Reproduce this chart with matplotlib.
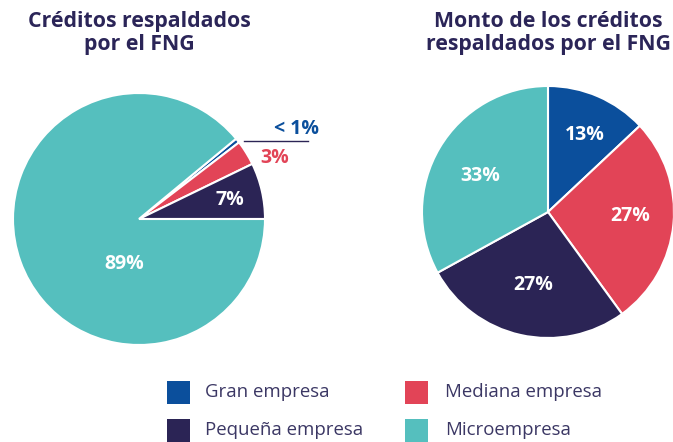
import matplotlib
matplotlib.use("Agg")
import matplotlib.pyplot as plt
from matplotlib import font_manager as fm
from matplotlib.patches import Rectangle

plt.rcParams['font.family'] = ['Open Sans', 'DejaVu Sans']

bold_path = None
for f in fm.fontManager.ttflist:
    if f.fname.endswith("OpenSans-Bold.ttf"):
        bold_path = f.fname
        break

def bold_fp(size):
    if bold_path:
        return fm.FontProperties(fname=bold_path, size=size)
    return fm.FontProperties(family="Open Sans", weight="bold", size=size)

categories = ["Gran empresa", "Mediana empresa", "Pequeña empresa", "Microempresa"]
left_values = [0.6, 3.2, 7.2, 89.0]
right_values = [13, 27, 27, 33]
left_labels = ["< 1%", "3%", "7%", "89%"]
right_labels = ["13%", "27%", "27%", "33%"]
colors = ["#0b4f9c", "#e24457", "#2b2455", "#55bfbe"]
titles = [["Créditos respaldados", "por el FNG"], ["Monto de los créditos", "respaldados por el FNG"]]

W, H = 673, 442
fig = plt.figure(figsize=(W / 100, H / 100), dpi=100)

def px_axes(cx, cy, r):
    return fig.add_axes([(cx - r) / W, (H - cy - r) / H, 2 * r / W, 2 * r / H])

def to_ax(cx, cy, r, x, y):
    return ((x - cx) / r, (cy - y) / r)

def fx(x):
    return x / W

def fy(y):
    return 1 - y / H

title_color = "#2b2558"
wprops = dict(edgecolor="white", linewidth=1.5)
lbl_size = 14

# Left pie
cxL, cyL, rL = 139, 219, 126
axL = px_axes(cxL, cyL, rL)
start_left = 360 * sum(left_values[:3]) / sum(left_values)
wedgesL, _ = axL.pie(left_values, colors=colors, startangle=start_left,
                     counterclock=False, radius=1, wedgeprops=wprops)
axL.set_xlim(-1, 1); axL.set_ylim(-1, 1); axL.set_aspect("equal"); axL.axis("off")

lbl_kw = dict(ha="center", va="center")
axL.text(*to_ax(cxL, cyL, rL, 297, 129), left_labels[0], color=colors[0], fontproperties=bold_fp(lbl_size), **lbl_kw)
axL.text(*to_ax(cxL, cyL, rL, 275, 158), left_labels[1], color=colors[1], fontproperties=bold_fp(lbl_size), **lbl_kw)
axL.text(*to_ax(cxL, cyL, rL, 230, 200), left_labels[2], color="white", fontproperties=bold_fp(lbl_size), **lbl_kw)
axL.text(*to_ax(cxL, cyL, rL, 124, 264), left_labels[3], color="white", fontproperties=bold_fp(lbl_size), **lbl_kw)
x0, y0 = to_ax(cxL, cyL, rL, 244, 141)
x1, _ = to_ax(cxL, cyL, rL, 308, 141)
axL.plot([x0, x1], [y0, y0], color="#2b2455", lw=1.0, clip_on=False)

# Right pie
cxR, cyR, rR = 548, 212, 126
axR = px_axes(cxR, cyR, rR)
wedgesR, _ = axR.pie(right_values, colors=colors, startangle=90,
                     counterclock=False, radius=1, wedgeprops=wprops)
axR.set_xlim(-1, 1); axR.set_ylim(-1, 1); axR.set_aspect("equal"); axR.axis("off")
axR.text(*to_ax(cxR, cyR, rR, 585, 135), right_labels[0], color="white", fontproperties=bold_fp(lbl_size), **lbl_kw)
axR.text(*to_ax(cxR, cyR, rR, 630, 216), right_labels[1], color="white", fontproperties=bold_fp(lbl_size), **lbl_kw)
axR.text(*to_ax(cxR, cyR, rR, 533, 285), right_labels[2], color="white", fontproperties=bold_fp(lbl_size), **lbl_kw)
axR.text(*to_ax(cxR, cyR, rR, 480, 176), right_labels[3], color="white", fontproperties=bold_fp(lbl_size), **lbl_kw)

# Titles (each line on its own baseline)
for cx, lines in ((139, titles[0]), (548.5, titles[1])):
    for line, base in zip(lines, (27, 50)):
        fig.text(fx(cx), fy(base), line, ha="center", va="baseline",
                 fontproperties=bold_fp(15.3), color=title_color)

# Legend (manual layout)
leg_order = [0, 1, 2, 3]
sq_x = [167, 405, 167, 405]
txt_x = [205, 445, 205, 445]
sq_top = [381, 381, 419, 419]
baselines = [397, 397, 435, 435]
sq = 22.5
for i in leg_order:
    fig.add_artist(Rectangle((fx(sq_x[i]), fy(sq_top[i] + sq)), sq / W, sq / H,
                             transform=fig.transFigure, facecolor=colors[i], edgecolor="none"))
    fig.text(fx(txt_x[i]), fy(baselines[i]), categories[i], ha="left", va="baseline",
             fontsize=13.4, color="#3b3764")

fig.savefig("out.png", dpi=100)
